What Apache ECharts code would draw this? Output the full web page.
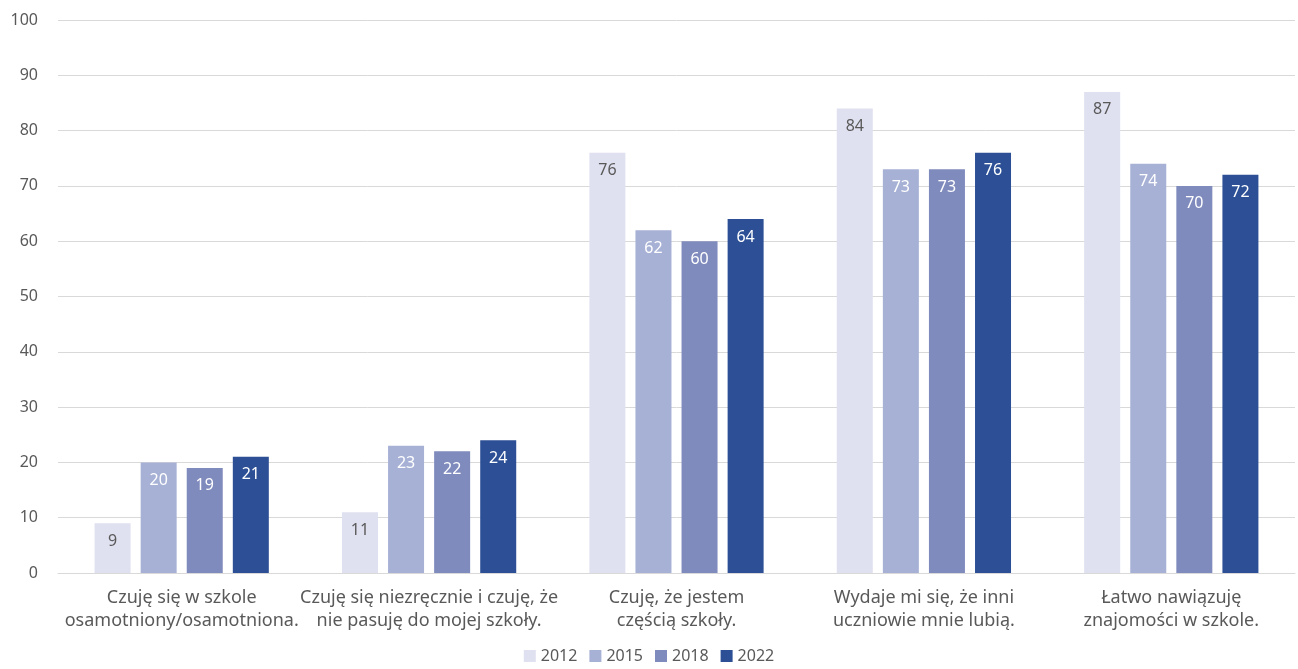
<!DOCTYPE html>
<html>
<head>
<meta charset="utf-8">
<script src="https://cdn.jsdelivr.net/npm/echarts@6/dist/echarts.min.js"></script>
<style>
  html, body { margin: 0; padding: 0; background: #fff; }
  #chart { width: 1298px; height: 669px; }
</style>
</head>
<body>
<div id="chart"></div>
<script>
var categories = [
    'Czuję się w szkole\nosamotniony/osamotniona.',
    'Czuję się niezręcznie i czuję, że\nnie pasuję do mojej szkoły.',
    'Czuję, że jestem\nczęścią szkoły.',
    'Wydaje mi się, że inni\nuczniowie mnie lubią.',
    'Łatwo nawiązuję\nznajomości w szkole.'
]
var years = ['2012', '2015', '2018', '2022']
var values2012 = [9, 11, 76, 84, 87]
var values2015 = [20, 23, 62, 73, 74]
var values2018 = [19, 22, 60, 73, 70]
var values2022 = [21, 24, 64, 76, 72]
var colors = ['#dfe0f0', '#a7b1d5', '#7f8abd', '#2c4f95']
var labelColors = ['#595959', '#fff', '#fff', '#fff']

var font = '"Noto Sans", "DejaVu Sans", sans-serif'
var allValues = [values2012, values2015, values2018, values2022]

var series = []
for (var i = 0; i < years.length; i++) {
    series.push({
        name: years[i],
        type: 'bar',
        data: allValues[i],
        barWidth: 36,
        barGap: '28%',
        itemStyle: { color: colors[i] },
        label: {
            show: true,
            position: 'insideTop',
            distance: 10,
            color: labelColors[i],
            fontSize: 16,
            fontFamily: font
        }
    })
}

var myChart = echarts.init(document.getElementById('chart'))
myChart.setOption({
    animation: false,
    color: colors,
    grid: { left: 58, right: 3, top: 20, bottom: 96, containLabel: false },
    legend: {
        bottom: 0,
        itemWidth: 12,
        itemHeight: 12,
        itemGap: 12,
        icon: 'rect',
        textStyle: { color: '#595959', fontSize: 16, fontFamily: font }
    },
    xAxis: {
        type: 'category',
        data: categories,
        axisLine: { lineStyle: { color: '#d9d9d9' } },
        axisTick: { show: false },
        axisLabel: {
            color: '#595959',
            fontSize: 18,
            fontFamily: font,
            lineHeight: 23,
            margin: 13,
            interval: 0
        }
    },
    yAxis: {
        type: 'value',
        min: 0,
        max: 100,
        interval: 10,
        axisLine: { show: false },
        axisTick: { show: false },
        splitLine: { lineStyle: { color: '#d9d9d9' } },
        axisLabel: {
            color: '#595959',
            fontSize: 16,
            fontFamily: font,
            margin: 20
        }
    },
    series: series
})
</script>
</body>
</html>
